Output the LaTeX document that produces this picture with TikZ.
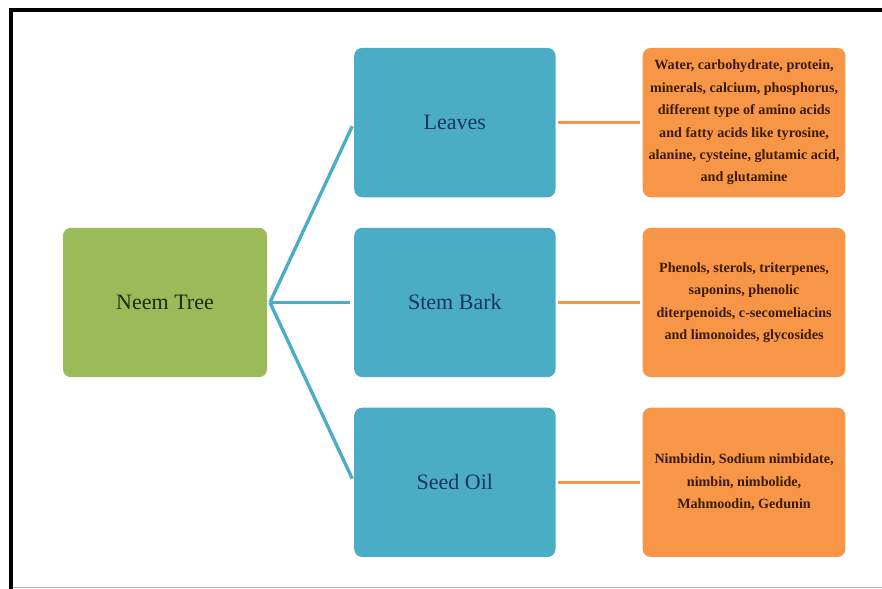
\documentclass[tikz,border=0pt]{standalone}
\usepackage{fontspec}
\setmainfont{Liberation Serif}
\usetikzlibrary{positioning}

\definecolor{treegreen}{HTML}{9BBB59}
\definecolor{partblue}{HTML}{4BACC6}
\definecolor{listorange}{HTML}{F79646}
\definecolor{treetext}{HTML}{1E2B0C}
\definecolor{parttext}{HTML}{17365D}
\definecolor{listtext}{HTML}{3B1A06}

\begin{document}
\begin{tikzpicture}
            [auto, node distance=22.5pt and 65pt,
            root/.style={rectangle, rounded corners=6pt, fill=treegreen, text=treetext,
              minimum width=153pt, minimum height=112pt, font=\fontsize{16.5}{19}\selectfont},
            part/.style={rectangle, rounded corners=6pt, fill=partblue, text=parttext,
              minimum width=151pt, minimum height=112pt, font=\fontsize{16.5}{19}\selectfont},
            content/.style={rectangle, rounded corners=6pt, fill=listorange, text=listtext,
              align=center, minimum width=152pt, minimum height=112pt, inner sep=1pt,
              font=\bfseries\fontsize{10.6}{16.8}\selectfont},
            branch/.style={draw=partblue, line width=2.5pt, shorten >=3pt},
            link/.style={draw=listorange, line width=2.4pt, shorten <=2pt, shorten >=2pt}]

            \useasboundingbox (0,0) rectangle (661.5pt,441.75pt);
            \draw[line width=3pt] (8.25pt,0) -- (8.25pt,434.25pt) -- (661.5pt,434.25pt);
            \draw[gray!60, line width=0.8pt] (9.75pt,1.1pt) -- (661.5pt,1.1pt);

            \node[root] (tree) at (123.75pt,214.9pt) {Neem Tree};
            \node[part] (bark) [right = of tree] {Stem Bark};
            \node[part] (leaves) [above = of bark] {Leaves};
            \node[part] (oil) [below = of bark] {Seed Oil};

            \node[content] (leaveslist) [right = of leaves] {Water, carbohydrate, protein,\\
              minerals, calcium, phosphorus,\\ different type of amino acids\\
              and fatty acids like tyrosine,\\ alanine, cysteine, glutamic acid,\\ and glutamine};
            \node[content] (barklist) [right = of bark] {Phenols, sterols, triterpenes,\\
              saponins, phenolic\\ diterpenoids, c-secomeliacins\\ and limonoides, glycosides};
            \node[content] (oillist) [right = of oil] {Nimbidin, Sodium nimbidate,\\
              nimbin, nimbolide,\\ Mahmoodin, Gedunin};

            \coordinate (hub) at ([xshift=2pt]tree.east);
            \draw[branch] (hub) -- (leaves.west);
            \draw[branch] (hub) -- (bark.west);
            \draw[branch] (hub) -- (oil.west);

            \draw[link] (leaves) -- (leaveslist);
            \draw[link] (bark) -- (barklist);
            \draw[link] (oil) -- (oillist);

          \end{tikzpicture}
\end{document}
